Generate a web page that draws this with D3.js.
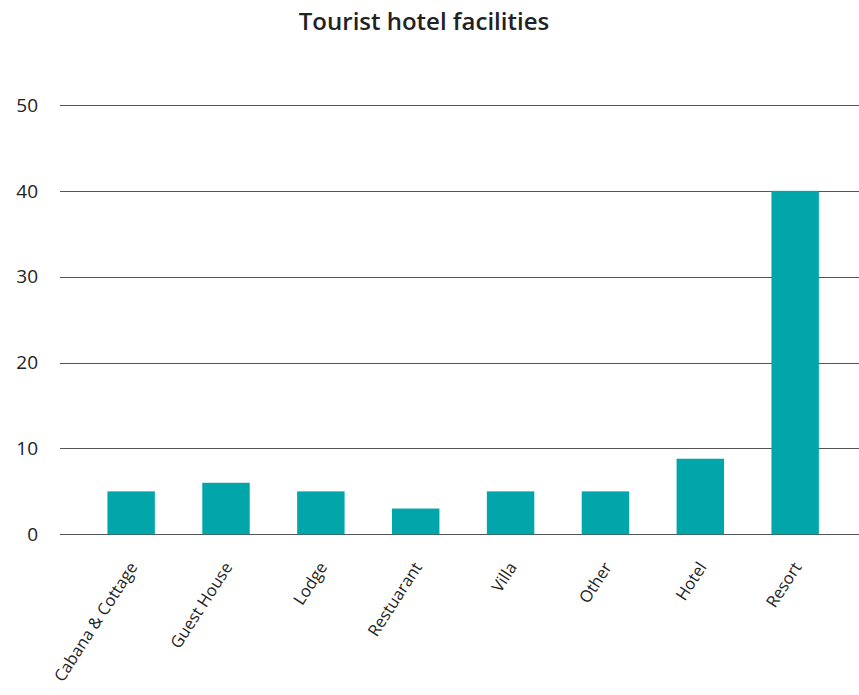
<!DOCTYPE html>
<html><head><meta charset="utf-8">
<script src="https://cdn.jsdelivr.net/npm/d3@7"></script>
<style>body{margin:0;background:#fff}</style>
</head><body>
<script>
const categories = ["Cabana & Cottage","Guest House","Lodge","Restuarant","Villa","Other","Hotel","Resort"];
const values = [5, 6, 5, 3, 5, 5, 8.8, 40];
const yTicks = [0, 10, 20, 30, 40, 50];
const title = "Tourist hotel facilities";

const W = 859, H = 695;
const svg = d3.select("body").append("svg").attr("width", W).attr("height", H);

const x = d3.scaleBand().domain(categories).range([60, 866.3]).paddingInner(0.5).paddingOuter(0.5);
const y = d3.scaleLinear().domain([0, 50]).range([534.3, 105]);

svg.append("text").attr("x", 424).attr("y", 30).attr("text-anchor", "middle")
  .attr("font-family", "Open Sans").attr("font-size", 24).attr("font-weight", 600)
  .attr("fill", "#222").text(title);

const ga = svg.append("g");
ga.selectAll("line").data(yTicks).join("line")
  .attr("x1", 60).attr("x2", W).attr("y1", d => Math.round(y(d)) + 0.5).attr("y2", d => Math.round(y(d)) + 0.5)
  .attr("stroke", "#555").attr("stroke-width", 1);
ga.selectAll("text").data(yTicks).join("text")
  .attr("x", 38).attr("y", d => y(d)).attr("dy", "0.35em").attr("text-anchor", "end")
  .attr("font-family", "Open Sans").attr("font-size", 19).attr("fill", "#222").text(d => d);

svg.append("g").selectAll("rect").data(values).join("rect")
  .attr("x", (d, i) => x(categories[i])).attr("width", x.bandwidth())
  .attr("y", d => y(d)).attr("height", d => y(0) - y(d)).attr("fill", "#00A6A9");

svg.append("g").selectAll("text").data(categories).join("text")
  .attr("transform", d => `translate(${x(d) + x.bandwidth() / 2 + 7},${567}) rotate(-57)`)
  .attr("text-anchor", "end")
  .attr("font-family", "Open Sans").attr("font-size", 16.5).attr("fill", "#222").text(d => d);
</script>
</body></html>
